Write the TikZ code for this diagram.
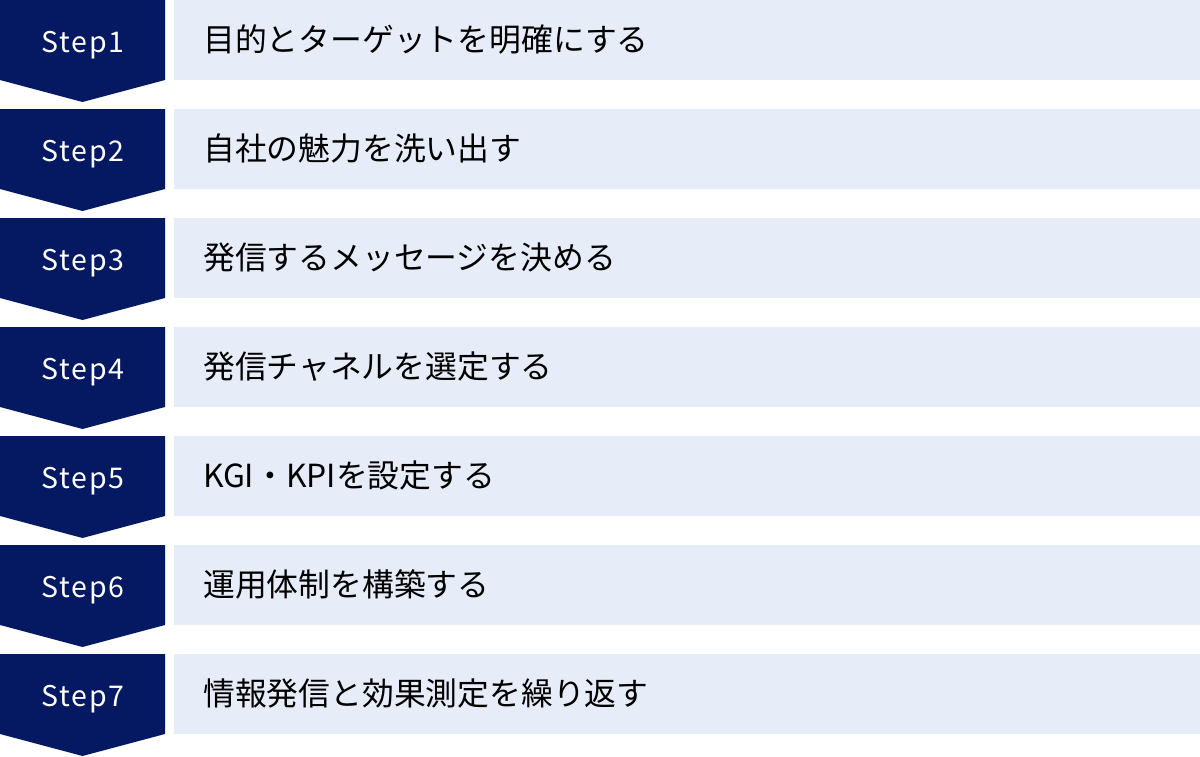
\documentclass[tikz,border=0pt]{standalone}
\usepackage{fontspec}
\setmainfont{Noto Sans CJK JP}
\newfontfamily\stepfont[LetterSpace=6]{Noto Sans CJK JP}
\usetikzlibrary{positioning}

\definecolor{stepnavy}{RGB}{5,24,98}
\definecolor{taskblue}{RGB}{230,236,248}

\tikzset{
  steplabel/.style={text=white, font=\stepfont\fontsize{28.5}{28.5}\selectfont, anchor=base, inner sep=0pt},
  tasklabel/.style={text=black, font=\fontsize{31.8}{31.8}\selectfont, anchor=base west, inner sep=0pt},
}

\begin{document}
\begin{tikzpicture}[x=1pt,y=1pt]
  \useasboundingbox (0,0) rectangle (1200,-756);
  \foreach \i/\task in {1/目的とターゲットを明確にする,
                        2/自社の魅力を洗い出す,
                        3/発信するメッセージを決める,
                        4/発信チャネルを選定する,
                        5/KGI・KPIを設定する,
                        6/運用体制を構築する,
                        7/情報発信と効果測定を繰り返す}{
    % arrow and box of one row
    \pgfmathsetmacro{\top}{-109*(\i-1)}
    \fill[stepnavy] (0,\top) -- (165,\top) -- (165,\top-80) -- (82.5,\top-102) -- (0,\top-80) -- cycle;
    \fill[taskblue] (174,\top) rectangle (1200,\top-80);
    \node[steplabel] (step\i) at (83,\top-52) {Step\i};
    \node[tasklabel] (task\i) at (203,\top-51.5) {\task};
  }
\end{tikzpicture}
\end{document}
